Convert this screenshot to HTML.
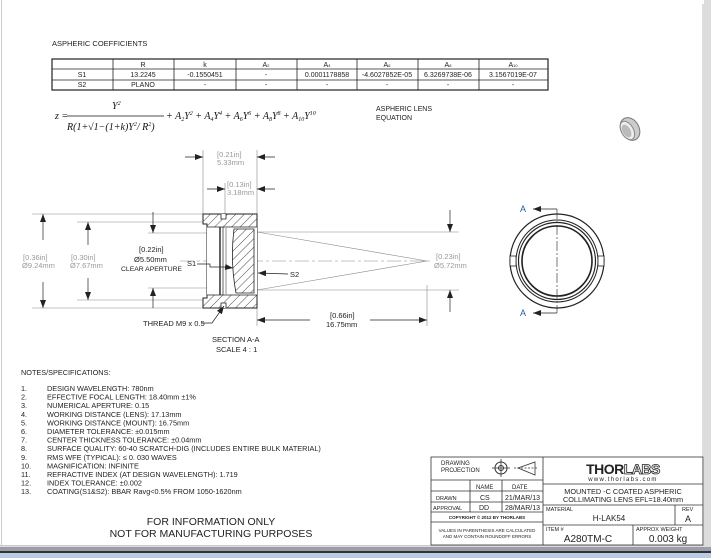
<!DOCTYPE html>
<html><head><meta charset="utf-8"><style>
html,body{margin:0;padding:0;background:#e6e6e6;}
svg{display:block;font-family:"Liberation Sans",sans-serif;}
</style></head><body>
<svg width="711" height="558" viewBox="0 0 711 558" xmlns="http://www.w3.org/2000/svg">
<defs>
<marker id="ar" markerWidth="8" markerHeight="6" refX="8" refY="3" orient="auto" markerUnits="userSpaceOnUse"><path d="M0,0 L8,3 L0,6 z" fill="#222"/></marker>
<pattern id="hatch" width="6" height="6" patternUnits="userSpaceOnUse" patternTransform="rotate(45)"><rect width="6" height="6" fill="#fff"/><line x1="0" y1="0" x2="0" y2="6" stroke="#222" stroke-width="0.8"/></pattern>
</defs>
<rect x="0" y="0" width="711" height="558" fill="#dcdcdc"/>
<rect x="0" y="0" width="704" height="546" fill="#fff"/>
<line x1="703" y1="4" x2="703" y2="546" stroke="#bbb"/>
<line x1="1.5" y1="0" x2="1.5" y2="545" stroke="#ccc"/>
<line x1="0" y1="545.5" x2="704" y2="545.5" stroke="#ccc"/>
<rect x="0" y="547" width="711" height="4" fill="#9a9ea6"/>
<rect x="0" y="551" width="711" height="2" fill="#333"/>
<rect x="0" y="553" width="711" height="5" fill="#b8cde4"/>

<!-- Table -->
<text x="52" y="46" font-size="7.5" fill="#222">ASPHERIC COEFFICIENTS</text>
<g stroke="#222" stroke-width="0.8" fill="none">
<rect x="52" y="59" width="496" height="31" stroke-width="1.2"/>
<line x1="52" y1="69" x2="548" y2="69"/><line x1="52" y1="80" x2="548" y2="80"/>
<line x1="113" y1="59" x2="113" y2="90"/><line x1="174" y1="59" x2="174" y2="90"/><line x1="236" y1="59" x2="236" y2="90"/><line x1="297" y1="59" x2="297" y2="90"/><line x1="357" y1="59" x2="357" y2="90"/><line x1="418" y1="59" x2="418" y2="90"/><line x1="479" y1="59" x2="479" y2="90"/>
</g>
<g font-size="7" fill="#222" text-anchor="middle">
<text x="143" y="67">R</text><text x="205" y="67">k</text><text x="266" y="67">A<tspan font-size="4">2</tspan></text><text x="327" y="67">A<tspan font-size="4">4</tspan></text><text x="387" y="67">A<tspan font-size="4">6</tspan></text><text x="448" y="67">A<tspan font-size="4">8</tspan></text><text x="513" y="67">A<tspan font-size="4">10</tspan></text>
<text x="82" y="77">S1</text><text x="143" y="77">13.2245</text><text x="205" y="77">-0.1550451</text><text x="266" y="77">-</text><text x="327" y="77">0.0001178858</text><text x="387" y="77">-4.6027852E-05</text><text x="448" y="77">6.3269738E-06</text><text x="513" y="77">3.1567019E-07</text>
<text x="82" y="87">S2</text><text x="143" y="87">PLANO</text><text x="205" y="87">-</text><text x="266" y="87">-</text><text x="327" y="87">-</text><text x="387" y="87">-</text><text x="448" y="87">-</text><text x="513" y="87">-</text>
</g>
<!-- equation -->
<g font-family="Liberation Serif,serif" font-style="italic" fill="#111" font-size="10">
<text x="55" y="119">z =</text>
<text x="112" y="109">Y<tspan font-size="6" dy="-4">2</tspan></text>
<line x1="67" y1="116" x2="164" y2="116" stroke="#111" stroke-width="0.7"/>
<text x="67" y="130">R(1+√1−(1+k)Y<tspan font-size="6" dy="-4">2</tspan><tspan dy="4">/ R</tspan><tspan font-size="6" dy="-4">2</tspan><tspan dy="4">)</tspan></text>
<text x="166" y="119">+ A<tspan font-size="6" dy="2">2</tspan><tspan dy="-2">Y</tspan><tspan font-size="6" dy="-4">2</tspan><tspan dy="4"> + A</tspan><tspan font-size="6" dy="2">4</tspan><tspan dy="-2">Y</tspan><tspan font-size="6" dy="-4">4</tspan><tspan dy="4"> + A</tspan><tspan font-size="6" dy="2">6</tspan><tspan dy="-2">Y</tspan><tspan font-size="6" dy="-4">6</tspan><tspan dy="4"> + A</tspan><tspan font-size="6" dy="2">8</tspan><tspan dy="-2">Y</tspan><tspan font-size="6" dy="-4">8</tspan><tspan dy="4"> + A</tspan><tspan font-size="6" dy="2">10</tspan><tspan dy="-2">Y</tspan><tspan font-size="6" dy="-4">10</tspan></text>
</g>
<text x="376" y="111" font-size="7" fill="#222">ASPHERIC LENS</text>
<text x="376" y="120" font-size="7" fill="#222">EQUATION</text>
<!-- small iso picture -->
<g transform="translate(630,129) rotate(-30)">
<ellipse cx="0" cy="0" rx="9" ry="12" fill="#ccc" stroke="#777"/>
<ellipse cx="-3" cy="0" rx="6" ry="10" fill="#eee" stroke="#888"/>
<ellipse cx="-4" cy="0" rx="4" ry="7" fill="#bbb"/>
</g>

<!-- section drawing -->
<g stroke="#888" stroke-width="0.6" fill="none">
<line x1="203" y1="150" x2="203" y2="214"/><line x1="257" y1="150" x2="257" y2="214"/>
<line x1="225" y1="183" x2="225" y2="214"/>
<line x1="32" y1="214" x2="203" y2="214"/><line x1="32" y1="308" x2="203" y2="308"/>
<line x1="77" y1="222" x2="205" y2="222"/><line x1="77" y1="300" x2="205" y2="300"/>
<line x1="148" y1="233" x2="232" y2="233"/><line x1="148" y1="288" x2="232" y2="288"/>
<line x1="257" y1="232" x2="459" y2="232"/><line x1="257" y1="290" x2="459" y2="290"/>
<line x1="257" y1="232" x2="427" y2="261"/><line x1="257" y1="290" x2="427" y2="261"/>
<line x1="180" y1="261" x2="430" y2="261" stroke-dasharray="14,3,3,3"/>
<line x1="427" y1="285" x2="427" y2="326"/>
<line x1="257" y1="308" x2="257" y2="326"/>
</g>
<g stroke="#222" stroke-width="0.7" fill="none" marker-end="url(#ar)">
<line x1="185" y1="157" x2="203" y2="157"/><line x1="275" y1="157" x2="257" y2="157"/>
<line x1="207" y1="189" x2="225" y2="189"/><line x1="275" y1="189" x2="257" y2="189"/>
<line x1="43" y1="240" x2="43" y2="214"/><line x1="43" y1="282" x2="43" y2="308"/>
<line x1="88" y1="245" x2="88" y2="222"/><line x1="88" y1="278" x2="88" y2="300"/>
<line x1="153" y1="212" x2="153" y2="233"/><line x1="153" y1="308" x2="153" y2="288"/>
<line x1="450" y1="210" x2="450" y2="232"/><line x1="450" y1="312" x2="450" y2="290"/>
<line x1="310" y1="320" x2="257" y2="320"/><line x1="370" y1="320" x2="427" y2="320"/>
</g>
<!-- mount -->
<path d="M203,214 L257,214 L257,308 L203,308 L203,298 L207,298 L207,224 L203,224 Z" fill="url(#hatch)" stroke="#222" stroke-width="1"/>
<rect x="207" y="227" width="25" height="68" fill="#fff" stroke="none"/>
<rect x="232" y="227" width="25" height="68" fill="#fff" stroke="none"/>
<path d="M220,227 L220,295" stroke="#222" stroke-width="1.4"/>
<path d="M223,227 L223,295" stroke="#222" stroke-width="0.7"/>
<path d="M207,227 L257,227 M207,295 L257,295" stroke="#222" stroke-width="0.8"/>
<path d="M234,229 L254,229 L254,293 L236,293 Q230,261 234,229 Z" fill="url(#hatch)" stroke="#222" stroke-width="0.8"/>
<path d="M226,228 L226,294" stroke="#222" stroke-width="0.5"/>
<path d="M221,214 L221,219 L226,219 L226,214 M221,308 L221,303 L226,303 L226,308" stroke="#222" stroke-width="0.8" fill="#fff"/>
<!-- labels -->
<g font-size="7.5" fill="#999">
<text x="217" y="157">[0.21in]</text><text x="217" y="165">5.33mm</text>
<text x="227" y="187">[0.13in]</text><text x="227" y="195">3.18mm</text>
<text x="23" y="260">[0.36in]</text><text x="22" y="268">Ø9.24mm</text>
<text x="71" y="260">[0.30in]</text><text x="70" y="268">Ø7.67mm</text>
<text x="436" y="259">[0.23in]</text><text x="434" y="268">Ø5.72mm</text>
</g>
<g font-size="7.5" fill="#222">
<text x="139" y="252">[0.22in]</text><text x="134" y="262">Ø5.50mm</text><text x="121" y="271" font-size="6.8">CLEAR APERTURE</text>
<text x="187" y="266">S1</text><text x="290" y="277">S2</text>
<text x="330" y="318">[0.66in]</text><text x="326" y="327">16.75mm</text>
<text x="143" y="326">THREAD M9 x 0.5</text>
<text x="212" y="342">SECTION A-A</text><text x="216" y="352">SCALE 4 : 1</text>
</g>
<g stroke="#222" stroke-width="0.7" fill="none">
<path d="M197,264 L210,264 L210,267 L225,267"/><line x1="225" y1="267" x2="233" y2="268" marker-end="url(#ar)"/>
<line x1="288" y1="274" x2="258" y2="273" marker-end="url(#ar)"/>
<path d="M201,323 L212,323 L224,306" marker-end="url(#ar)"/>
</g>
<!-- end view -->
<g fill="none" stroke="#222">
<circle cx="557" cy="261" r="47" stroke-width="1.2"/>
<circle cx="557" cy="261" r="41" stroke-width="1"/>
<circle cx="557" cy="261" r="38.5" stroke-width="1.2"/>
<circle cx="557" cy="261" r="35" stroke-width="1.6"/>
<rect x="510" y="256" width="6" height="10" fill="#fff" stroke-width="0.8"/>
<rect x="598" y="256" width="6" height="10" fill="#fff" stroke-width="0.8"/>
<line x1="557" y1="209" x2="557" y2="313" stroke-width="0.6" stroke-dasharray="10,2,2,2"/>
<line x1="557" y1="209" x2="533" y2="209" stroke-width="0.8" marker-end="url(#ar)"/>
<line x1="557" y1="313" x2="533" y2="313" stroke-width="0.8" marker-end="url(#ar)"/>
</g>
<text x="520" y="212" font-size="9" fill="#1f5fa8">A</text>
<text x="520" y="316" font-size="9" fill="#1f5fa8">A</text>

<!-- notes -->
<g font-size="7.3" fill="#222">
<text x="21" y="375">NOTES/SPECIFICATIONS:</text>
<text x="21" y="391">1.</text><text x="47" y="391">DESIGN WAVELENGTH: 780nm</text>
<text x="21" y="399.6">2.</text><text x="47" y="399.6">EFFECTIVE FOCAL LENGTH: 18.40mm ±1%</text>
<text x="21" y="408.2">3.</text><text x="47" y="408.2">NUMERICAL APERTURE: 0.15</text>
<text x="21" y="416.8">4.</text><text x="47" y="416.8">WORKING DISTANCE (LENS): 17.13mm</text>
<text x="21" y="425.4">5.</text><text x="47" y="425.4">WORKING DISTANCE (MOUNT): 16.75mm</text>
<text x="21" y="434">6.</text><text x="47" y="434">DIAMETER TOLERANCE: ±0.015mm</text>
<text x="21" y="442.6">7.</text><text x="47" y="442.6">CENTER THICKNESS TOLERANCE:  ±0.04mm</text>
<text x="21" y="451.2">8.</text><text x="47" y="451.2">SURFACE QUALITY: 60-40 SCRATCH-DIG (INCLUDES ENTIRE BULK MATERIAL)</text>
<text x="21" y="459.8">9.</text><text x="47" y="459.8">RMS WFE (TYPICAL): ≤ 0. 030 WAVES</text>
<text x="21" y="468.4">10.</text><text x="47" y="468.4">MAGNIFICATION: INFINITE</text>
<text x="21" y="477">11.</text><text x="47" y="477">REFRACTIVE INDEX (AT DESIGN WAVELENGTH): 1.719</text>
<text x="21" y="485.6">12.</text><text x="47" y="485.6">INDEX TOLERANCE: ±0.002</text>
<text x="21" y="494.2">13.</text><text x="47" y="494.2">COATING(S1&amp;S2): BBAR Ravg&lt;0.5% FROM 1050-1620nm</text>
</g>
<g font-size="10.5" fill="#222" text-anchor="middle">
<text x="211" y="525">FOR INFORMATION ONLY</text>
<text x="211" y="537">NOT FOR MANUFACTURING PURPOSES</text>
</g>

<!-- title block -->
<g stroke="#333" stroke-width="0.8" fill="none">
<rect x="431" y="457" width="272" height="88"/>
<line x1="543" y1="457" x2="543" y2="545"/>
<line x1="431" y1="480" x2="543" y2="480"/><line x1="431" y1="491" x2="543" y2="491"/><line x1="431" y1="502" x2="543" y2="502"/><line x1="431" y1="512" x2="543" y2="512"/><line x1="431" y1="522" x2="543" y2="522"/>
<line x1="470" y1="480" x2="470" y2="512"/><line x1="502" y1="480" x2="502" y2="512"/>
<line x1="543" y1="484" x2="703" y2="484"/><line x1="543" y1="505" x2="703" y2="505"/><line x1="543" y1="525" x2="703" y2="525"/>
<line x1="675" y1="505" x2="675" y2="525"/><line x1="633" y1="525" x2="633" y2="545"/>
<circle cx="501" cy="468" r="6" stroke-width="1"/><circle cx="501" cy="468" r="2.5" stroke-width="1"/>
<line x1="492" y1="468" x2="510" y2="468"/><line x1="501" y1="459" x2="501" y2="477"/>
<path d="M518,468 L535,462 L535,475 Z"/><line x1="514" y1="468" x2="538" y2="468" stroke-dasharray="2,1.5"/>
</g>
<g fill="#222" font-size="6">
<text x="441" y="465">DRAWING</text><text x="441" y="472">PROJECTION</text>
<text x="476" y="489">NAME</text><text x="512" y="489">DATE</text>
<text x="436" y="500" font-size="5.5">DRAWN</text><text x="480" y="500" font-size="7">CS</text><text x="505" y="500" font-size="7">21/MAR/13</text>
<text x="433" y="510" font-size="5.5">APPROVAL</text><text x="479" y="510" font-size="7">DD</text><text x="505" y="510" font-size="7">28/MAR/13</text>
<text x="487" y="519" font-size="4.5" text-anchor="middle" font-weight="bold">COPYRIGHT © 2012 BY THORLABS</text>
<text x="487" y="532" font-size="4.5" text-anchor="middle">VALUES IN PARENTHESIS ARE CALCULATED</text>
<text x="487" y="538" font-size="4.5" text-anchor="middle">AND MAY CONTAIN ROUNDOFF ERRORS</text>
<text x="623" y="474" font-size="14" font-weight="bold" text-anchor="middle" letter-spacing="-0.5">THOR<tspan fill="#fff" stroke="#222" stroke-width="0.8">LABS</tspan></text>
<text x="623" y="481" font-size="6" text-anchor="middle" letter-spacing="1.3">www.thorlabs.com</text>
<text x="623" y="494" font-size="7.3" text-anchor="middle">MOUNTED -C COATED ASPHERIC</text>
<text x="623" y="502" font-size="7.3" text-anchor="middle">COLLIMATING LENS  EFL=18.40mm</text>
<text x="546" y="511" font-size="5.5">MATERIAL</text>
<text x="609" y="521" font-size="8" text-anchor="middle">H-LAK54</text>
<text x="682" y="511" font-size="5.5">REV</text>
<text x="685" y="522" font-size="9">A</text>
<text x="546" y="531" font-size="5.5">ITEM #</text>
<text x="588" y="542" font-size="10" text-anchor="middle">A280TM-C</text>
<text x="636" y="531" font-size="5.5">APPROX WEIGHT</text>
<text x="668" y="542" font-size="10" text-anchor="middle">0.003 kg</text>
</g>
</svg>
</body></html>
